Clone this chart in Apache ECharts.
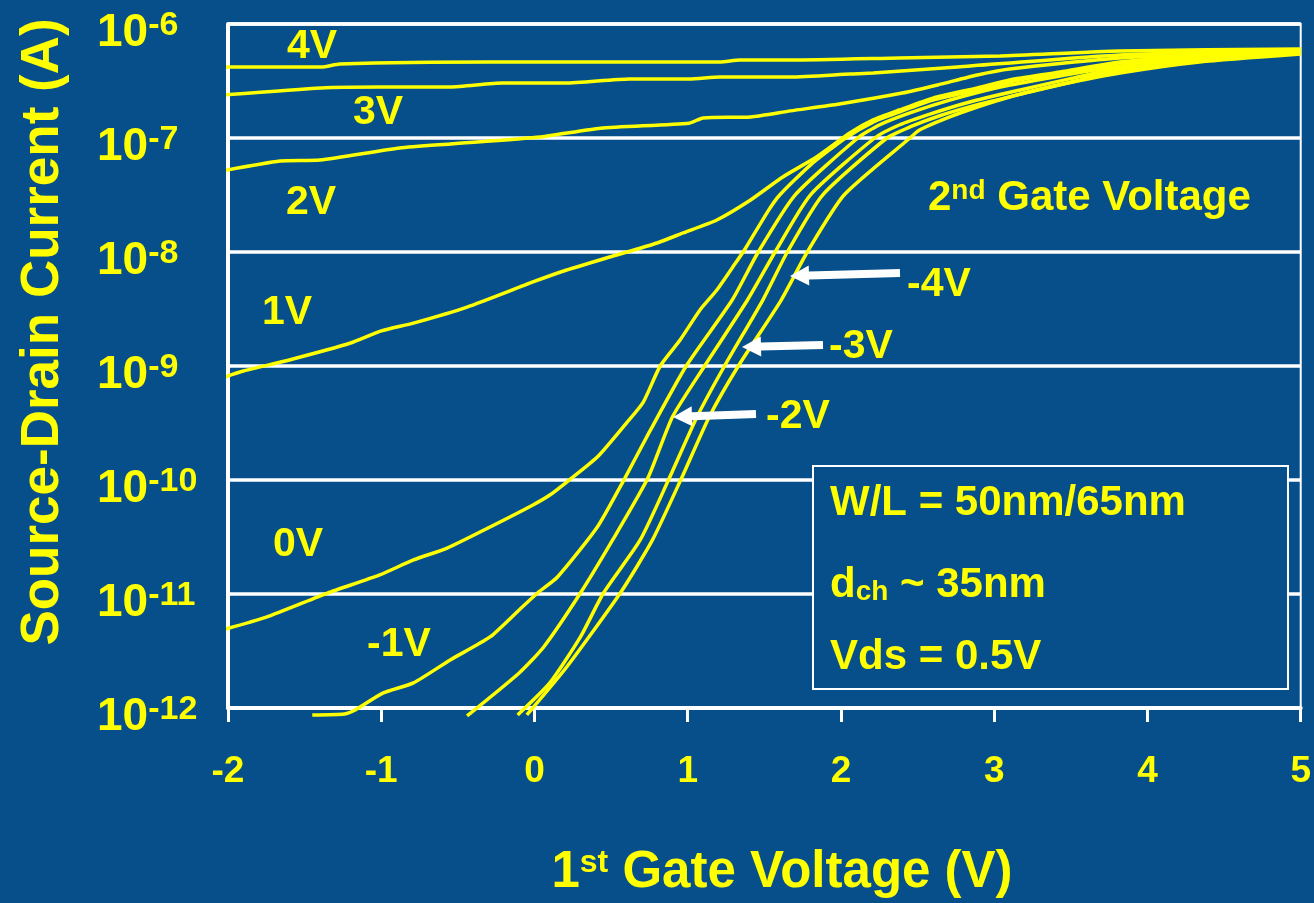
<!DOCTYPE html>
<html>
<head>
<meta charset="utf-8">
<style>
  html, body { margin: 0; padding: 0; background: #064f8a; }
  #chart { width: 1314px; height: 903px; }
</style>
</head>
<body>
<div id="chart"></div>
<script src="https://cdn.jsdelivr.net/npm/echarts@6/dist/echarts.min.js"></script>
<script>
// 1st gate voltage (V) and source-drain current (A) for each 2nd gate voltage
const v4V = [-2.04, -1.39, -1.27, -0.29, 1.21, 1.34, 1.67, 2.38, 3.04, 3.82, 5.0]
const i4V = [4.2e-7, 4.2e-7, 4.46e-7, 4.64e-7, 4.64e-7, 4.83e-7, 4.83e-7, 5.04e-7, 5.24e-7, 5.8e-7, 6.04e-7]

const v3V = [-2.04, -1.39, -1.01, -0.55, -0.21, 0.2, 0.62, 1.01, 1.21, 1.67, 2.06, 2.21, 2.76, 3.82, 5.0]
const i3V = [2.38e-7, 2.75e-7, 2.8e-7, 2.8e-7, 3.03e-7, 3.03e-7, 3.3e-7, 3.3e-7, 3.43e-7, 3.43e-7, 3.64e-7, 3.71e-7, 4.2e-7, 5.35e-7, 5.91e-7]

const v2V = [-2.04, -1.66, -1.4, -0.88, -0.55, 0.04, 0.43, 1.01, 1.1, 1.41, 1.67, 1.99, 2.4, 2.63, 2.89, 3.1, 3.82, 5.0]
const i2V = [5.14e-8, 6.28e-8, 6.41e-8, 8.17e-8, 8.86e-8, 1.02e-7, 1.22e-7, 1.35e-7, 1.5e-7, 1.53e-7, 1.73e-7, 1.99e-7, 2.48e-7, 2.92e-7, 3.57e-7, 4.03e-7, 5.04e-7, 5.8e-7]

const v1V = [-2.04, -1.9, -1.6, -1.2, -1.0, -0.79, -0.44, -0.01, 0.21, 0.49, 0.8, 0.97, 1.19, 1.41, 1.62, 1.84, 2.06, 2.21, 2.38, 2.6, 2.89, 3.1, 3.43, 3.82, 4.34, 5.0]
const i1V = [7.85e-10, 9.04e-10, 1.13e-9, 1.59e-9, 2.03e-9, 2.38e-9, 3.29e-9, 5.46e-9, 6.95e-9, 9.03e-9, 1.2e-8, 1.47e-8, 1.91e-8, 2.86e-8, 4.55e-8, 6.81e-8, 1.11e-7, 1.44e-7, 1.76e-7, 2.24e-7, 2.75e-7, 3.23e-7, 3.79e-7, 4.64e-7, 5.24e-7, 5.68e-7]

const v0V = [-2.04, -1.75, -1.35, -1.01, -0.79, -0.57, -0.29, -0.01, 0.1, 0.21, 0.41, 0.6, 0.71, 0.82, 0.95, 1.08, 1.19, 1.29, 1.37, 1.52, 1.6, 1.8, 2.03, 2.21, 2.38, 2.6, 2.89, 3.1, 3.43, 3.82, 4.34, 5.0]
const i0V = [4.83e-12, 6.28e-12, 1.02e-11, 1.47e-11, 1.99e-11, 2.53e-11, 3.87e-11, 6.04e-11, 7.38e-11, 9.6e-11, 1.59e-10, 3.16e-10, 4.83e-10, 1.0e-9, 1.69e-9, 3.1e-9, 4.64e-9, 7.25e-9, 1.04e-8, 2.24e-8, 3.16e-8, 5.79e-8, 1.0e-7, 1.38e-7, 1.69e-7, 2.15e-7, 2.64e-7, 3.1e-7, 3.71e-7, 4.55e-7, 5.14e-7, 5.68e-7]

const vm1V = [-1.45, -1.24, -1.17, -0.99, -0.79, -0.55, -0.29, -0.1, 0.02, 0.15, 0.41, 0.59, 0.75, 0.99, 1.29, 1.46, 1.7, 2.11, 2.25, 2.45, 2.71, 3.04, 3.43, 3.82, 4.34, 5.0]
const im1V = [8.69e-13, 8.86e-13, 9.6e-13, 1.35e-12, 1.66e-12, 2.64e-12, 4.2e-12, 7.25e-12, 1.02e-11, 1.41e-11, 3.87e-11, 1.04e-10, 2.64e-10, 1.0e-9, 3.79e-9, 1.0e-8, 3.16e-8, 1.0e-7, 1.3e-7, 1.66e-7, 2.15e-7, 2.8e-7, 3.5e-7, 4.28e-7, 5.04e-7, 5.68e-7]

const vm2V = [-0.44, -0.1, 0.06, 0.3, 0.51, 0.74, 0.9, 1.11, 1.39, 1.57, 1.8, 2.22, 2.38, 2.58, 2.84, 3.17, 3.49, 3.82, 4.34, 5.0]
const im2V = [8.52e-13, 2.03e-12, 3.43e-12, 1.02e-11, 2.98e-11, 1.04e-10, 3.57e-10, 1.0e-9, 3.79e-9, 1.0e-8, 3.16e-8, 1.0e-7, 1.3e-7, 1.62e-7, 2.07e-7, 2.64e-7, 3.3e-7, 4.11e-7, 4.93e-7, 5.57e-7]

const vm3V = [-0.11, 0.1, 0.3, 0.45, 0.69, 0.88, 1.06, 1.24, 1.49, 1.65, 1.88, 2.3, 2.45, 2.64, 2.91, 3.23, 3.56, 3.82, 4.34, 5.0]
const im3V = [8.69e-13, 1.66e-12, 4.2e-12, 1.02e-11, 2.98e-11, 1.04e-10, 3.57e-10, 1.0e-9, 3.79e-9, 1.0e-8, 3.16e-8, 1.0e-7, 1.25e-7, 1.56e-7, 1.99e-7, 2.53e-7, 3.23e-7, 3.95e-7, 4.73e-7, 5.57e-7]

const vm4V = [-0.05, 0.21, 0.56, 0.77, 0.96, 1.14, 1.33, 1.61, 1.78, 2.02, 2.45, 2.51, 2.71, 2.89, 3.1, 3.36, 3.82, 4.34, 5.0]
const im4V = [8.69e-13, 2.29e-12, 1.02e-11, 2.98e-11, 1.04e-10, 3.57e-10, 1.0e-9, 3.79e-9, 1.0e-8, 3.16e-8, 1.0e-7, 1.17e-7, 1.53e-7, 1.87e-7, 2.29e-7, 2.8e-7, 3.71e-7, 4.64e-7, 5.45e-7]

const curveNames = ['4V', '3V', '2V', '1V', '0V', '-1V', '-2V', '-3V', '-4V']
const curveX = [v4V, v3V, v2V, v1V, v0V, vm1V, vm2V, vm3V, vm4V]
const curveY = [i4V, i3V, i2V, i1V, i0V, im1V, im2V, im3V, im4V]

const xTicks = [-2, -1, 0, 1, 2, 3, 4, 5]
const infoLines = ['W/L = 50nm/65nm', 'd_ch ~ 35nm', 'Vds = 0.5V']

// annotation placement (pixels)
const curveLabels = [
  ['4V', 287, 47], ['3V', 353, 113], ['2V', 286, 203], ['1V', 262, 313],
  ['0V', 273, 545], ['-1V', 367, 645],
  ['-2V', 766, 417], ['-3V', 829, 347], ['-4V', 907, 285]
]
// tip x, tip y, tail x, tail y
const arrows = [
  [673, 417, 756, 414],
  [742, 347, 823, 345],
  [790, 276, 900, 273]
]

const BG = '#064f8a'
const YEL = '#ffff00'
const FONT = '"Liberation Sans", Arial, Helvetica, sans-serif'

const chart = echarts.init(document.getElementById('chart'))

const arrowShape = ([tx, ty, ex, ey]) => {
  const L = Math.hypot(ex - tx, ey - ty)
  const ux = (ex - tx) / L
  const uy = (ey - ty) / L
  const nx = -uy
  const ny = ux
  const head = 19, hw = 10, sw = 4
  const bx = tx + ux * head
  const by = ty + uy * head
  return [
    [tx, ty],
    [bx + nx * hw, by + ny * hw],
    [bx + nx * sw, by + ny * sw],
    [ex + nx * sw, ey + ny * sw],
    [ex - nx * sw, ey - ny * sw],
    [bx - nx * sw, by - ny * sw],
    [bx - nx * hw, by - ny * hw]
  ]
}

const txt = (x, y, text, size, extra = {}) => ({
  type: 'text',
  x,
  y,
  z: 100,
  style: Object.assign(
    {
      text,
      fill: YEL,
      fontSize: size,
      fontWeight: 'bold',
      fontFamily: FONT,
      textAlign: 'left',
      textVerticalAlign: 'middle'
    },
    extra
  )
})

const graphics = []

// info box
graphics.push({
  type: 'rect',
  z: 90,
  shape: { x: 813, y: 466, width: 475, height: 223 },
  style: { fill: BG, stroke: '#ffffff', lineWidth: 2 }
})
graphics.push(txt(830, 503, infoLines[0], 42))
graphics.push(
  txt(830, 585, '{a|d}{s|ch}{a| ~ 35nm}', 42, {
    rich: {
      a: { fontSize: 42, fontWeight: 'bold', fontFamily: FONT, fill: YEL },
      s: { fontSize: 28, fontWeight: 'bold', fontFamily: FONT, fill: YEL, verticalAlign: 'bottom', padding: [14, 0, 0, 0] }
    }
  })
)
graphics.push(txt(830, 657, infoLines[2], 42))

// "2nd Gate Voltage"
graphics.push(
  txt(928, 198, '{a|2}{s|nd}{a| Gate Voltage}', 42, {
    rich: {
      a: { fontSize: 42, fontWeight: 'bold', fontFamily: FONT, fill: YEL },
      s: { fontSize: 28, fontWeight: 'bold', fontFamily: FONT, fill: YEL, verticalAlign: 'top', padding: [0, 0, 12, 0] }
    }
  })
)

curveLabels.forEach(([t, x, y]) => graphics.push(txt(x, y, t, 41)))

arrows.forEach(a =>
  graphics.push({
    type: 'polygon',
    z: 100,
    shape: { points: arrowShape(a) },
    style: { fill: '#ffffff' }
  })
)

// axis titles
graphics.push(
  txt(782, 873, '{a|1}{s|st}{a| Gate Voltage (V)}', 51, {
    textAlign: 'center',
    rich: {
      a: { fontSize: 51, fontWeight: 'bold', fontFamily: FONT, fill: YEL },
      s: { fontSize: 32, fontWeight: 'bold', fontFamily: FONT, fill: YEL, verticalAlign: 'top', padding: [0, 0, 16, 0] }
    }
  })
)
graphics.push({
  type: 'text',
  x: 43,
  y: 332,
  rotation: Math.PI / 2,
  z: 100,
  style: {
    text: 'Source-Drain Current (A)',
    fill: YEL,
    fontSize: 53,
    fontWeight: 'bold',
    fontFamily: FONT,
    textAlign: 'center',
    textVerticalAlign: 'middle'
  }
})

const series = curveNames.map((name, k) => ({
  name,
  type: 'line',
  data: curveX[k].map((v, i) => [v, curveY[k][i]]),
  showSymbol: false,
  smooth: 0.2,
  clip: false,
  lineStyle: { color: YEL, width: 3.5 },
  z: 5
}))

chart.setOption({
  backgroundColor: BG,
  animation: false,
  grid: {
    left: 228,
    right: 13,
    top: 24,
    bottom: 195,
    show: true,
    borderColor: '#ffffff',
    borderWidth: 2,
    backgroundColor: 'transparent'
  },
  xAxis: {
    type: 'value',
    min: -2,
    max: 5,
    interval: 1,
    axisLine: { lineStyle: { color: '#ffffff', width: 4 } },
    axisTick: { show: true, length: 14, lineStyle: { color: '#ffffff', width: 3 } },
    splitLine: { show: false },
    axisLabel: {
      color: YEL,
      fontSize: 37,
      fontWeight: 'bold',
      fontFamily: FONT,
      margin: 45,
      formatter: v => (xTicks.includes(v) ? String(v) : '')
    }
  },
  yAxis: {
    type: 'log',
    logBase: 10,
    min: 1e-12,
    max: 1e-6,
    splitNumber: 6,
    axisLine: { show: true, onZero: false, lineStyle: { color: '#ffffff', width: 4 } },
    axisTick: { show: false },
    splitLine: { show: true, lineStyle: { color: '#ffffff', width: 3.5 } },
    axisLabel: {
      margin: 131,
      align: 'left',
      padding: [18, 0, 0, 0],
      formatter: v => '{a|10}{b|' + Math.round(Math.log10(v)) + '}',
      rich: {
        a: { color: YEL, fontSize: 46, fontWeight: 'bold', fontFamily: FONT },
        b: { color: YEL, fontSize: 34, fontWeight: 'bold', fontFamily: FONT, verticalAlign: 'top', padding: [0, 0, 14, 0] }
      }
    }
  },
  series,
  graphic: graphics
})
</script>
</body>
</html>
